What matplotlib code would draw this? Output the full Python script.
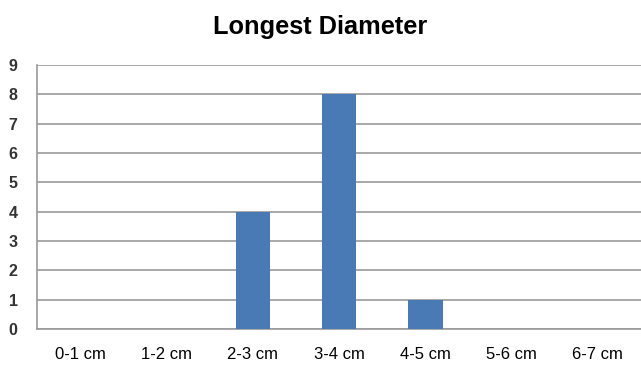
import matplotlib.pyplot as plt

categories = ["0-1 cm", "1-2 cm", "2-3 cm", "3-4 cm", "4-5 cm", "5-6 cm", "6-7 cm"]
counts = [0, 0, 4, 8, 1, 0, 0]
y_ticks = list(range(0, 10))

BAR_COLOR = "#4a7ab5"
GRID_COLOR = "#9a9a9a"

fig = plt.figure(figsize=(6.41, 3.65), dpi=100)
ax = fig.add_axes([0.058, 0.099, 0.942, 0.723])

x = list(range(len(categories)))
ax.bar(x, counts, width=0.4, color=BAR_COLOR, zorder=3)

ax.set_xlim(-0.5, len(categories) - 0.5)
ax.set_ylim(0, 9)
ax.set_yticks(y_ticks)
ax.set_yticklabels([str(v) for v in y_ticks], fontsize=11.5, color="#333333",
                   fontfamily="Liberation Sans", fontweight="bold")
ax.set_xticks(x)
ax.set_xticklabels(categories, fontsize=12, fontfamily="Liberation Sans")
ax.tick_params(axis="both", length=0)
ax.tick_params(axis="y", pad=14)
ax.tick_params(axis="x", pad=13)

ax.grid(axis="y", color=GRID_COLOR, linewidth=1.2, zorder=0)
for side in ("top", "right"):
    ax.spines[side].set_visible(False)
for side in ("left", "bottom"):
    ax.spines[side].set_color(GRID_COLOR)
    ax.spines[side].set_linewidth(1.2)

fig.text(0.5, 0.926, "Longest Diameter", ha="center", va="center",
         fontsize=18.3, fontweight="bold", fontfamily="Liberation Sans")

fig.savefig("out.png", dpi=100)
